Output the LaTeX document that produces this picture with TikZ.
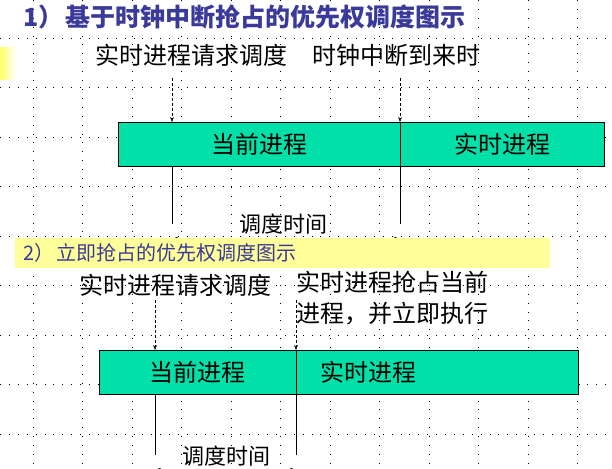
\documentclass[tikz,border=0pt]{standalone}
\usepackage{fontspec}
\newfontfamily\cjk{Noto Sans CJK SC}
\usetikzlibrary{arrows.meta}
\definecolor{procgreen}{HTML}{00E0A8}
\definecolor{titleblue}{HTML}{3A3A9A}
\definecolor{bandyellow}{HTML}{FFFF99}
\tikzset{
	proc/.style={draw=black, thick, fill=procgreen, minimum height=44pt, inner sep=0pt, font=\cjk\fontsize{24}{28}\selectfont},
	lbl/.style={inner sep=0pt, font=\cjk\fontsize{24}{28}\selectfont},
	req/.style={densely dashed, -{Stealth[length=5pt]}},
	span/.style={{Stealth[length=6pt]}-{Stealth[length=6pt]}},
}
\begin{document}
\begin{tikzpicture}[x=1pt, y=-1pt]
	\useasboundingbox (0,0) rectangle (612,468);
	% dotted grid
	\foreach \gx in {0,...,11}
		\draw[black, line width=0.6pt, dash pattern=on 0.6pt off 8.3pt] (33+49.5*\gx,0) -- (33+49.5*\gx,468);
	\foreach \gy in {0,...,8}
		\draw[black, line width=0.6pt, dash pattern=on 0.6pt off 8.3pt] (0,38+49.5*\gy) -- (612,38+49.5*\gy);
	\shade[left color=yellow!60, right color=white] (0,48) rectangle (16,80);
	
	% part 1
	\node[anchor=west, text=titleblue, font=\cjk\bfseries\fontsize{25}{30}\selectfont] (title1) at (20,17) {1）\hspace{2pt}基于时钟中断抢占的优先权调度图示};
	\node[lbl] (req1) at (191,55) {实时进程请求调度};
	\node[lbl] (clk1) at (396,55) {时钟中断到来时};
	\node[proc, minimum width=282pt, anchor=north west] (cur1) at (118,122) {当前进程};
	\node[proc, minimum width=204pt, anchor=north west] (rt1) at (400,122) {实时进程};
	\coordinate (a1) at (172,78);
	\coordinate (b1) at (400,78);
	\draw[req] (a1) -- (a1 |- cur1.north);
	\draw[req] (b1) -- (b1 |- cur1.north);
	\coordinate (c1) at (172,224);
	\coordinate (d1) at (400,224);
	\draw (c1 |- cur1.south) -- (c1);
	\draw (d1 |- cur1.south) -- (d1);
	\draw[span] ([yshift=-15pt]c1) -- ([yshift=-15pt]d1);
	\node[lbl, font=\cjk\fontsize{22}{26}\selectfont] (time1) at (283,224) {调度时间};
	
	% part 2
	\fill[bandyellow] (15,238) rectangle (550,268);
	\node[anchor=west, text=titleblue, font=\cjk\fontsize{20}{24}\selectfont] (title2) at (20,253) {2）\hspace{2pt}立即抢占的优先权调度图示};
	\node[lbl] (req2) at (175,285) {实时进程请求调度};
	\node[lbl, anchor=north west, align=left, font=\cjk\fontsize{24}{31}\selectfont] (pre2) at (296,271) {实时进程抢占当前\\进程，并立即执行};
	\node[proc, minimum width=197pt, anchor=north west] (cur2) at (99,350) {当前进程};
	\node[proc, minimum width=282pt, anchor=north west] (rt2) at (296,350) {\hspace*{-138pt}实时进程};
	\coordinate (a2) at (155,300);
	\coordinate (b2) at (296,300);
	\draw[req] (a2) -- (a2 |- cur2.north);
	\draw[req] (b2) -- (b2 |- cur2.north);
	\coordinate (c2) at (155,455);
	\coordinate (d2) at (296,455);
	\draw (c2 |- cur2.south) -- (c2);
	\draw (d2 |- cur2.south) -- (d2);
	\draw[span] ([yshift=-15pt]c2) -- ([yshift=-15pt]d2);
	\node[lbl, font=\cjk\fontsize{22}{26}\selectfont] (time2) at (226,456) {调度时间};
\end{tikzpicture}
\end{document}
